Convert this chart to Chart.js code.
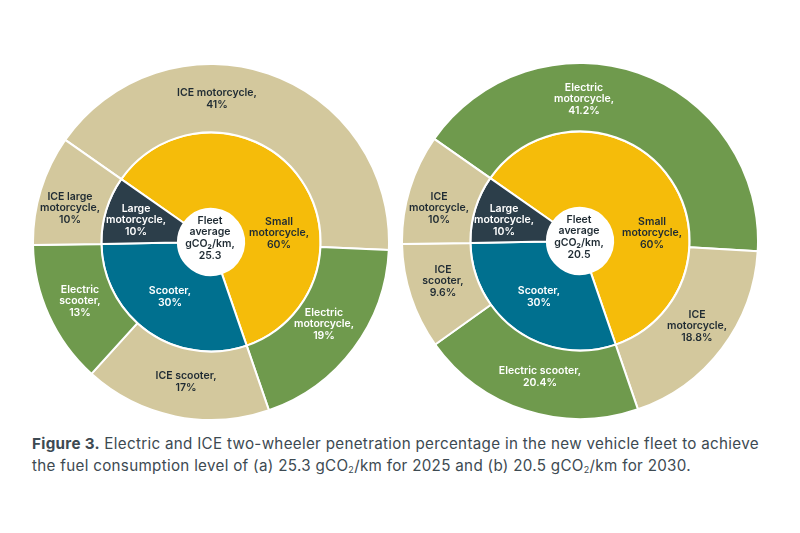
<!DOCTYPE html>
<html>
<head>
<meta charset="utf-8">
<script src="https://cdn.jsdelivr.net/npm/chart.js@4"></script>
<style>
  html, body { margin: 0; padding: 0; background: #fff; }
  #page { position: relative; width: 800px; height: 533px; overflow: hidden; }
  canvas { position: absolute; }
  #chart2025 { left: 32px; top: 63px; }
  #chart2030 { left: 401px; top: 62px; }
  #caption {
    position: absolute; left: 32px; top: 433px; width: 760px;
    font: 400 15.2px/22px Inter, sans-serif; letter-spacing: 0.3px; color: #3d4a52; white-space: nowrap;
  }
  #caption b { font-weight: 700; }
  #caption sub { font-size: 9px; line-height: 0; vertical-align: -2px; }
</style>
</head>
<body>
<div id="page">
  <canvas id="chart2025" width="358" height="358"></canvas>
  <canvas id="chart2030" width="358" height="358"></canvas>
  <div id="caption">
    <b>Figure 3.</b> Electric and ICE two-wheeler penetration percentage in the new vehicle fleet to achieve<br>
    the fuel consumption level of (a) 25.3 gCO<sub>2</sub>/km for 2025 and (b) 20.5 gCO<sub>2</sub>/km for 2030.
  </div>
</div>
<script>
// Inner ring, same in both charts
var innerLabels = [['Small', 'motorcycle,'], ['Scooter,'], ['Large', 'motorcycle,']];
var innerValues = [60, 30, 10];

// Outer ring, 2025
var outerLabels2025 = [['ICE motorcycle,'], ['Electric', 'motorcycle,'], ['ICE scooter,'], ['Electric', 'scooter,'], ['ICE large', 'motorcycle,']];
var outerValues2025 = [41, 19, 17, 13, 10];

// Outer ring, 2030
var outerLabels2030 = [['Electric', 'motorcycle,'], ['ICE', 'motorcycle,'], ['Electric scooter,'], ['ICE', 'scooter,'], ['ICE', 'motorcycle,']];
var outerValues2030 = [41.2, 18.8, 20.4, 9.6, 10];

var fleetAverage2025 = 25.3;
var fleetAverage2030 = 20.5;

var TAN = '#d3c89d', GREEN = '#6f9a4d', YELLOW = '#f5bc0a', NAVY = '#2c3e4a', TEAL = '#00708f';
var DARK_TEXT = '#1f2b33';
var innerColors = [YELLOW, TEAL, NAVY];
var innerTextColors = [DARK_TEXT, '#fff', '#fff'];

// label offsets from the chart centre, in px
var innerOffsets2025 = [[68, -9], [-41, 55], [-75, -22]];
var outerOffsets2025 = [[6, -143], [113, 82], [-25, 140], [-131, 59], [-141, -34]];
var innerOffsets2030 = [[72, -8], [-41, 56], [-76, -21]];
var outerOffsets2030 = [[4, -142], [117, 85], [-40, 136], [-137, 40], [-141, -33]];

var FONT = '600 10.5px Inter, sans-serif';
var LINE = 11.6;

function drawLines(ctx, lines, x, y, color) {
    ctx.fillStyle = color;
    var top = y - (lines.length - 1) * LINE / 2;
    lines.forEach(function (l, i) { ctx.fillText(l, x, top + i * LINE); });
}

// draws slice labels and the fleet average in the hole
var ringLabels = {
    id: 'ringLabels',
    afterDraw: function (chart, args, opts) {
        var ctx = chart.ctx;
        var cx = chart.getDatasetMeta(0).data[0].x;
        var cy = chart.getDatasetMeta(0).data[0].y;
        ctx.save();
        ctx.font = FONT;
        ctx.textAlign = 'center';
        ctx.textBaseline = 'middle';
        chart.data.datasets.forEach(function (ds) {
            ds.data.forEach(function (v, i) {
                var lines = ds.textLabels[i].concat(v + '%');
                drawLines(ctx, lines, cx + ds.offsets[i][0], cy + ds.offsets[i][1], ds.textColors[i]);
            });
        });
        drawLines(ctx, ['Fleet', 'average', 'gCO\u2082/km,', String(opts.average)], cx + opts.centerDx, cy - 4, DARK_TEXT);
        ctx.restore();
    }
};

function makeChart(id, outerLabels, outerValues, outerColors, outerTextColors, outerOffsets, innerOffsets, average, centerDx) {
    return new Chart(document.getElementById(id), {
        type: 'doughnut',
        data: {
            datasets: [
                {
                    data: outerValues,
                    backgroundColor: outerColors,
                    textLabels: outerLabels,
                    textColors: outerTextColors,
                    offsets: outerOffsets,
                    weight: 68
                },
                {
                    data: innerValues,
                    backgroundColor: innerColors,
                    textLabels: innerLabels,
                    textColors: innerTextColors,
                    offsets: innerOffsets,
                    weight: 76
                }
            ]
        },
        options: {
            responsive: false,
            animation: false,
            rotation: -55,
            cutout: '18.6%',
            borderColor: '#fff',
            borderWidth: 2,
            datasets: { doughnut: { borderColor: '#fff', borderWidth: 2 } },
            plugins: {
                legend: { display: false },
                tooltip: { enabled: false },
                ringLabels: { average: average, centerDx: centerDx }
            }
        },
        plugins: [ringLabels]
    });
}

makeChart('chart2025', outerLabels2025, outerValues2025,
    [TAN, GREEN, TAN, GREEN, TAN],
    [DARK_TEXT, '#fff', DARK_TEXT, '#fff', DARK_TEXT],
    outerOffsets2025, innerOffsets2025, fleetAverage2025, -1);

makeChart('chart2030', outerLabels2030, outerValues2030,
    [GREEN, TAN, GREEN, TAN, TAN],
    ['#fff', DARK_TEXT, '#fff', DARK_TEXT, DARK_TEXT],
    outerOffsets2030, innerOffsets2030, fleetAverage2030, -1);
</script>
</body>
</html>
